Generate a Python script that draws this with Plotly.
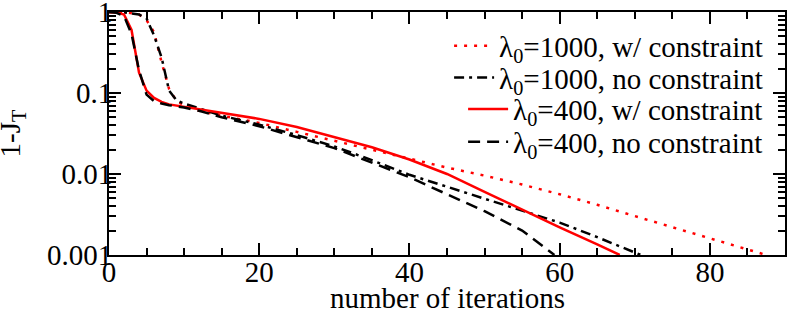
import plotly.graph_objects as go

# lambda0=1000, w/ constraint (red dotted)
x_1000_w = [0, 2, 4, 5, 6, 7, 8, 9, 10, 12, 15, 20, 25, 30, 35, 40, 45, 50, 55, 60, 65, 70, 75, 80, 85, 87.5]
y_1000_w = [1.0, 1.0, 0.933, 0.794, 0.562, 0.240, 0.112, 0.0794, 0.0708, 0.0603, 0.0525, 0.0427, 0.0331,
            0.0257, 0.0200, 0.0155, 0.0120, 0.00955, 0.00741, 0.00562, 0.00417, 0.00302, 0.00219,
            0.00162, 0.00117, 0.0010]

# lambda0=1000, no constraint (black dash-dot)
x_1000_n = [0, 2, 4, 5, 6, 7, 8, 9, 10, 12, 15, 20, 25, 30, 35, 40, 45, 50, 55, 60, 65, 70.8]
y_1000_n = [1.0, 0.99, 0.933, 0.832, 0.513, 0.275, 0.107, 0.0813, 0.0741, 0.0646, 0.0525, 0.0407,
            0.0302, 0.0219, 0.0148, 0.00977, 0.00692, 0.00490, 0.00355, 0.00251, 0.00166, 0.0010]

# lambda0=400, w/ constraint (red solid)
x_400_w = [0, 1, 2, 3, 4, 5, 6, 7, 8, 10, 12, 15, 20, 25, 30, 35, 40, 45, 50, 55, 60, 65, 68]
y_400_w = [1.0, 0.99, 0.933, 0.60, 0.178, 0.107, 0.087, 0.0776, 0.0724, 0.0676, 0.0631, 0.0575,
           0.0479, 0.0380, 0.0288, 0.0214, 0.0151, 0.0100, 0.00603, 0.00363, 0.00219, 0.00135, 0.0010]

# lambda0=400, no constraint (black dashed)
x_400_n = [0, 1, 2, 3, 4, 5, 6, 7, 8, 10, 12, 15, 20, 25, 30, 35, 40, 45, 50, 55, 59.3]
y_400_n = [1.0, 0.977, 0.891, 0.537, 0.191, 0.0955, 0.0794, 0.0741, 0.0708, 0.0661, 0.0603, 0.0501,
           0.0389, 0.0288, 0.0209, 0.0138, 0.00912, 0.00562, 0.00347, 0.00200, 0.0010]

names = ["λ<sub>0</sub>=1000, w/ constraint", "λ<sub>0</sub>=1000, no constraint",
         "λ<sub>0</sub>=400, w/ constraint", "λ<sub>0</sub>=400, no constraint"]

y_tickvals = [1, 0.1, 0.01, 0.001]
y_ticktext = ["1", "0.1", "0.01", "0.001"]
x_tickvals = [0, 20, 40, 60, 80]

FONT = "serif"
FS = 29

series = [
    (x_1000_w, y_1000_w, "#ff0000", "3px,7px"),
    (x_1000_n, y_1000_n, "#000000", "10px,5px,3px,5px"),
    (x_400_w, y_400_w, "#ff0000", "solid"),
    (x_400_n, y_400_n, "#000000", "12px,7px"),
]

fig = go.Figure()
legend_rows = [0.86, 0.73, 0.60, 0.465]
layout_legends = {}
for i, (xs, ys, col, dash) in enumerate(series):
    lg = "legend" if i == 0 else f"legend{i+1}"
    fig.add_trace(go.Scatter(x=xs, y=ys, mode="lines",
                             name=f'<span style="font-family:serif">{names[i]}</span>', legend=lg,
                             line=dict(color=col, width=2.5, dash=dash)))
    layout_legends[lg] = dict(x=0.975, y=legend_rows[i], xanchor="right", yanchor="middle",
                              bgcolor="rgba(0,0,0,0)", font=dict(family=FONT, size=FS, color="black"),
                              itemwidth=40, borderwidth=0)

fig.update_layout(
    template="none",
    width=789, height=311,
    margin=dict(l=109, r=4, t=12, b=56, autoexpand=False),
    paper_bgcolor="white", plot_bgcolor="white",
    font=dict(family=FONT, size=FS, color="black"),
    showlegend=True,
    xaxis=dict(range=[0, 90], tickvals=x_tickvals, ticks="inside", ticklen=12, tickwidth=1.5,
               tickcolor="black", showline=True, linecolor="black", linewidth=2, mirror="allticks",
               showgrid=False, zeroline=False, automargin=False, ticklabeloverflow="allow",
               ticklabelstandoff=-10,
               minor=dict(ticks="inside", ticklen=7, tickwidth=1.5, dtick=5, tickcolor="black", showgrid=False),
               tickfont=dict(family=FONT, size=FS)),
    yaxis=dict(type="log", range=[-3.0005, 0.0005], tickvals=y_tickvals, ticktext=y_ticktext,
               ticks="inside", ticklen=12, tickwidth=1.5, tickcolor="black",
               showline=True, linecolor="black", linewidth=2, mirror="allticks",
               showgrid=False, zeroline=False, automargin=False, ticklabeloverflow="allow",
               ticklabelstandoff=-11,
               minor=dict(ticks="inside", ticklen=7, tickwidth=1.5, dtick="D1", tickcolor="black", showgrid=False),
               tickfont=dict(family=FONT, size=FS)),
    annotations=[
        dict(text="number of iterations", xref="paper", yref="paper", x=0.5, y=0, yanchor="middle",
             yshift=-43, showarrow=False, font=dict(family=FONT, size=FS)),
        dict(text="1-J<sub>T</sub>", xref="paper", yref="paper", x=0, y=0.5, xanchor="center",
             yanchor="middle", xshift=-98, textangle=-90, showarrow=False, font=dict(family=FONT, size=FS)),
    ],
    **layout_legends,
)

fig.write_html("out.html", config={"displayModeBar": False},
               post_script="document.body.style.margin='0';")
